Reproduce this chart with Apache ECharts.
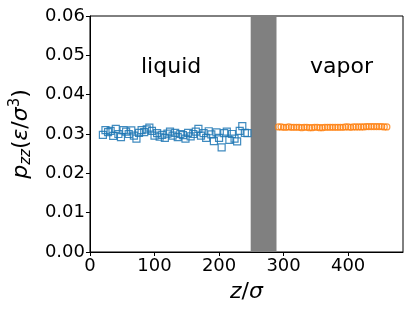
<!DOCTYPE html>
<html>
<head>
<meta charset="utf-8">
<script src="https://cdn.jsdelivr.net/npm/echarts@6/dist/echarts.min.js"></script>
<style>
  html, body { margin: 0; padding: 0; background: #fff; }
  #chart { width: 415px; height: 311px; }
</style>
</head>
<body>
<div id="chart"></div>
<script>
// liquid side, squares
var liquidZ = [20, 24, 28, 32, 36, 40, 44, 48, 52, 56, 60, 64, 68, 72, 76, 80, 84, 88, 92, 96,
  100, 104, 108, 112, 116, 120, 124, 128, 132, 136, 140, 144, 148, 152, 156, 160, 164, 168, 172, 176,
  180, 184, 188, 192, 196, 200, 204, 208, 212, 216, 220, 224, 228, 232, 236, 240, 244];
var liquidP = [0.0298, 0.0310, 0.0305, 0.0308, 0.0295, 0.0313, 0.0300, 0.0292, 0.0310, 0.0306,
  0.0300, 0.0309, 0.0296, 0.0288, 0.0303, 0.0310, 0.0305, 0.0312, 0.0316, 0.0308,
  0.0296, 0.0302, 0.0293, 0.0298, 0.0290, 0.0301, 0.0306, 0.0296, 0.0303, 0.0292,
  0.0300, 0.0297, 0.0288, 0.0303, 0.0294, 0.0300, 0.0306, 0.0313, 0.0296, 0.0302,
  0.0290, 0.0307, 0.0299, 0.0282, 0.0304, 0.0290, 0.0266, 0.0302, 0.0306, 0.0285,
  0.0300, 0.0288, 0.0281, 0.0308, 0.0320, 0.0303, 0.0302];

// vapor side, circles
var vaporZ = [292, 296, 300, 304, 308, 312, 316, 320, 324, 328, 332, 336, 340, 344, 348, 352,
  356, 360, 364, 368, 372, 376, 380, 384, 388, 392, 396, 400, 404, 408, 412, 416, 420, 424,
  428, 432, 436, 440, 444, 448, 452, 456, 460];
var vaporP = [0.0318, 0.0318, 0.0317, 0.0317, 0.0318, 0.0317, 0.0317, 0.0317, 0.0317, 0.0316,
  0.0317, 0.0317, 0.0316, 0.0316, 0.0317, 0.0317, 0.0316, 0.0316, 0.0317, 0.0317,
  0.0317, 0.0317, 0.0317, 0.0317, 0.0317, 0.0317, 0.0318, 0.0318, 0.0317, 0.0318,
  0.0318, 0.0318, 0.0318, 0.0318, 0.0319, 0.0319, 0.0319, 0.0319, 0.0319, 0.0319,
  0.0319, 0.0318, 0.0318];

// interface band
var bandZ = [249, 289];

var xTicks = [0, 100, 200, 300, 400];
var yTicks = [0, 0.01, 0.02, 0.03, 0.04, 0.05, 0.06];

var chartDom = document.getElementById('chart');
var myChart = echarts.init(chartDom);
var font = 'DejaVu Sans';

var option = {
  animation: false,
  textStyle: { fontFamily: font },
  grid: {
    left: 87, right: 12, top: 16, bottom: 59,
    show: true, borderColor: '#000', borderWidth: 1
  },
  xAxis: {
    type: 'value',
    min: 0, max: 485, interval: 100,
    name: '{i|z}{n|/}{i|σ}',
    nameLocation: 'middle',
    nameGap: 29,
    nameTextStyle: {
      rich: {
        i: { fontSize: 22, fontStyle: 'italic', fontFamily: font, color: '#000' },
        n: { fontSize: 22, fontFamily: font, color: '#000' }
      }
    },
    axisLine: { show: true, onZero: false, lineStyle: { color: '#000' } },
    axisTick: { show: true, length: 4, lineStyle: { color: '#000' } },
    axisLabel: { fontSize: 18, color: '#000', margin: 5, showMaxLabel: false,
      formatter: function (v) { return xTicks.indexOf(v) >= 0 ? String(v) : ''; } },
    splitLine: { show: false }
  },
  yAxis: {
    type: 'value',
    min: 0, max: 0.06, interval: 0.01,
    name: '{i|p}{s|zz}{n|(}{i|ε}{n|/}{i|σ}{u|3}{n|)}',
    nameLocation: 'middle',
    nameRotate: 90,
    nameGap: 52,
    nameTextStyle: {
      rich: {
        i: { fontSize: 22, fontStyle: 'italic', fontFamily: font, color: '#000' },
        n: { fontSize: 22, fontFamily: font, color: '#000' },
        s: { fontSize: 15, fontStyle: 'italic', fontFamily: font, color: '#000', padding: [10, 0, 0, 0] },
        u: { fontSize: 15, fontFamily: font, color: '#000', padding: [0, 0, 12, 0] }
      }
    },
    axisLine: { show: true, lineStyle: { color: '#000' } },
    axisTick: { show: true, length: 4, lineStyle: { color: '#000' } },
    axisLabel: { fontSize: 18, color: '#000', margin: 5,
      formatter: function (v) { return v.toFixed(2); } },
    splitLine: { show: false }
  },
  graphic: [
    { type: 'text', left: 141, top: 56, style: { text: 'liquid', font: '22px "DejaVu Sans"', fill: '#000' } },
    { type: 'text', left: 310, top: 56, style: { text: 'vapor', font: '22px "DejaVu Sans"', fill: '#000' } }
  ],
  series: [
    {
      type: 'scatter',
      name: 'liquid',
      symbol: 'rect',
      symbolSize: 7,
      itemStyle: { color: 'rgba(0,0,0,0)', borderColor: '#1f77b4', borderWidth: 1.2, opacity: 0.85 },
      data: liquidZ.map(function (z, i) { return [z, liquidP[i]]; }),
      markArea: {
        silent: true,
        itemStyle: { color: '#808080', opacity: 1 },
        data: [[{ xAxis: bandZ[0] }, { xAxis: bandZ[1] }]]
      },
      z: 3
    },
    {
      type: 'scatter',
      name: 'vapor',
      symbol: 'circle',
      symbolSize: 6,
      itemStyle: { color: 'rgba(0,0,0,0)', borderColor: '#ff7f0e', borderWidth: 1.2 },
      data: vaporZ.map(function (z, i) { return [z, vaporP[i]]; }),
      z: 3
    }
  ]
};

option && myChart.setOption(option);
</script>
</body>
</html>
